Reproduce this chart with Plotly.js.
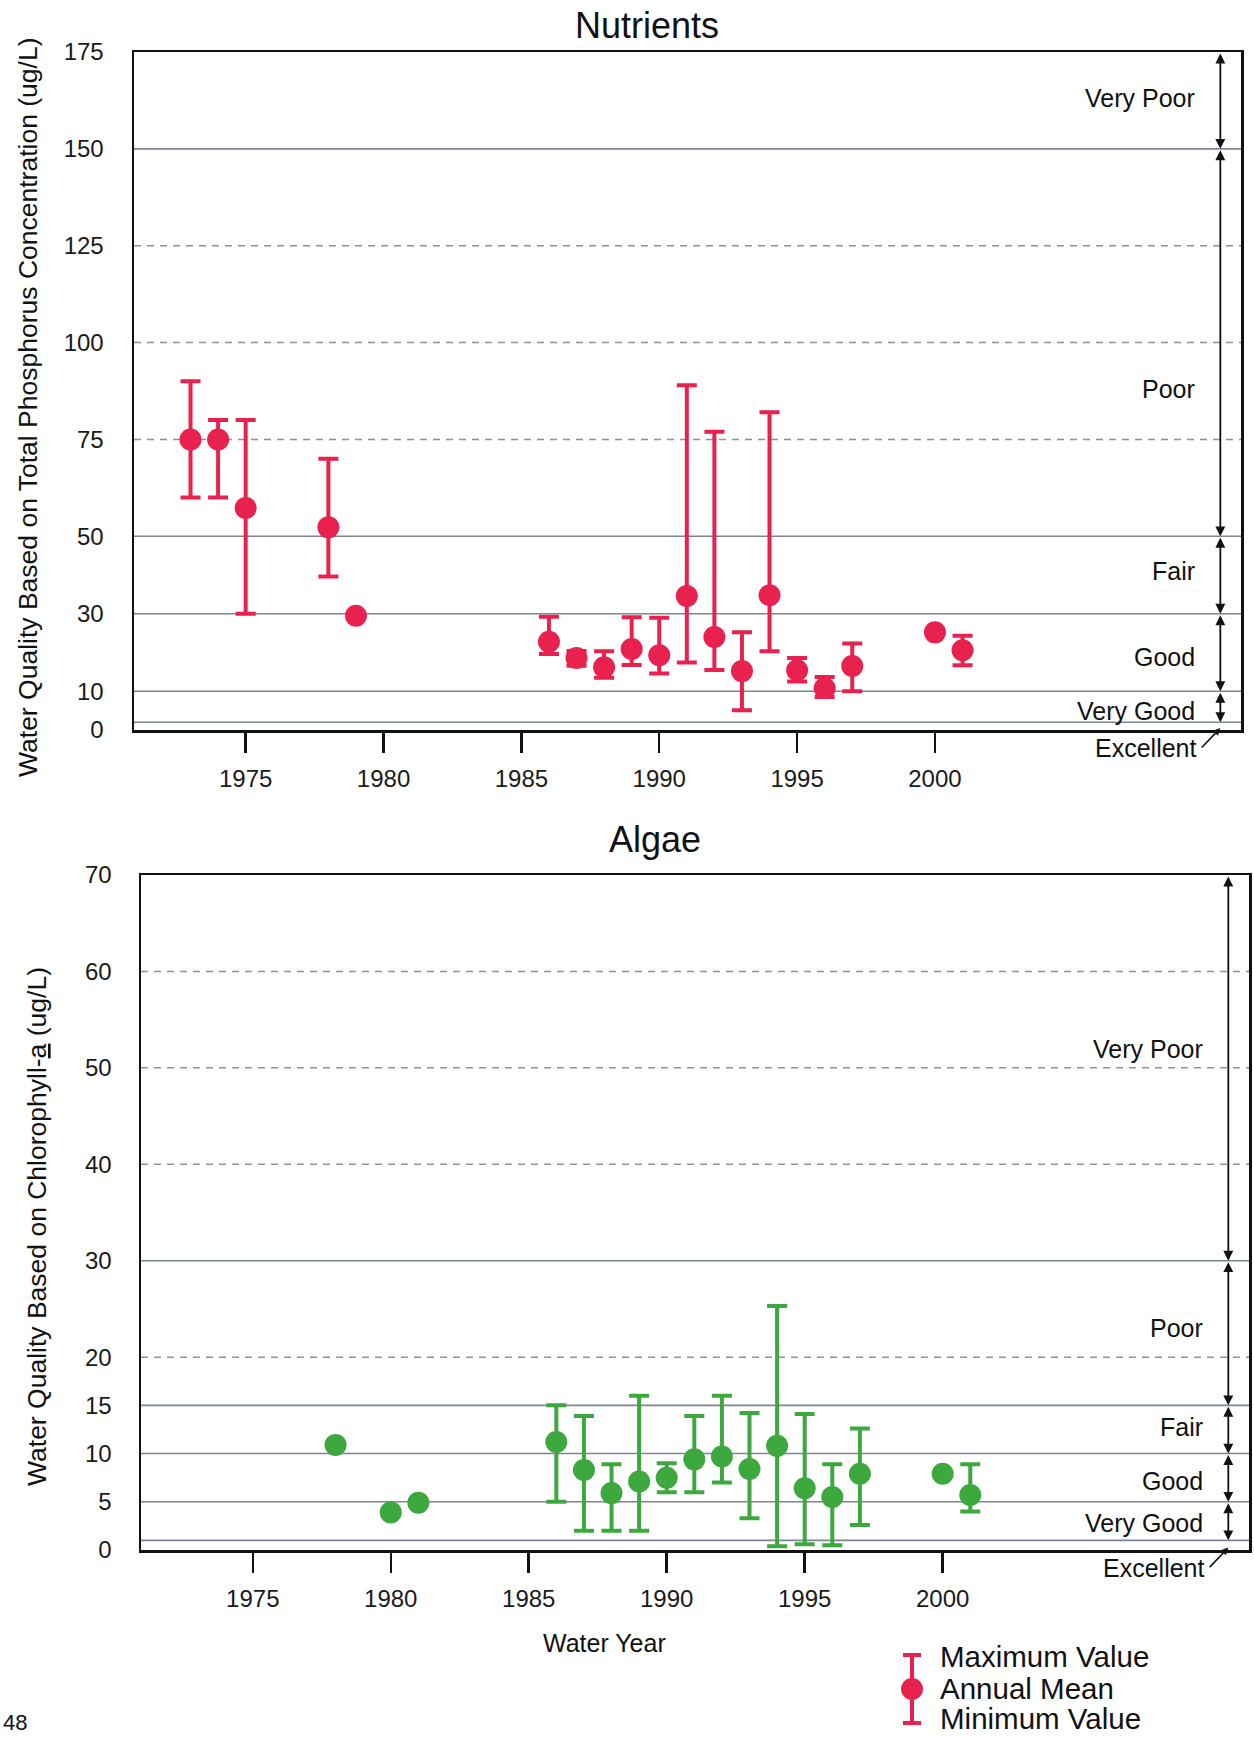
<!DOCTYPE html>
<html>
<head>
<meta charset="utf-8">
<script src="https://cdn.plot.ly/plotly-3.0.1.min.js"></script>
<style>
  html, body { margin: 0; padding: 0; background: #ffffff; }
  #chart { width: 1254px; height: 1737px; }
</style>
</head>
<body>
<div id="chart"></div>
<script>
// ---------- Data: Nutrients (Total Phosphorus, ug/L) ----------
const tpYears = [1973, 1974, 1975, 1978, 1979, 1986, 1987, 1988, 1989, 1990, 1991, 1992, 1993, 1994, 1995, 1996, 1997, 2000, 2001];
const tpMean  = [75, 75, 57.3, 52.3, 29.5, 22.8, 18.6, 16.2, 20.9, 19.3, 34.6, 24, 15.2, 34.8, 15.4, 10.8, 16.5, 25.2, 20.6];
const tpMax   = [90, 80, 80, 70, null, 29.2, 20.4, 20.3, 29.1, 29, 89, 77, 25.2, 82, 18.6, 13.7, 22.3, null, 24.3];
const tpMin   = [60, 60, 30, 39.6, null, 19.6, 16.6, 13.5, 16.8, 14.6, 17.4, 15.5, 5.1, 20.3, 12.5, 8.5, 10, null, 16.7];

// ---------- Data: Algae (Chlorophyll-a, ug/L) ----------
const chlYears = [1978, 1980, 1981, 1986, 1987, 1988, 1989, 1990, 1991, 1992, 1993, 1994, 1995, 1996, 1997, 2000, 2001];
const chlMean  = [10.9, 3.9, 4.9, 11.2, 8.3, 5.9, 7.1, 7.5, 9.4, 9.7, 8.4, 10.8, 6.4, 5.5, 7.9, 7.9, 5.7];
const chlMax   = [null, null, null, 15, 13.9, 8.9, 16, 9, 13.9, 16, 14.2, 25.3, 14.1, 8.9, 12.6, null, 8.9];
const chlMin   = [null, null, null, 5, 2, 2, 2, 6, 6, 7, 3.3, 0.4, 0.6, 0.5, 2.6, null, 4];

// ---------- Axis ticks ----------
const xTicks = [1975, 1980, 1985, 1990, 1995, 2000];
const tpTicks = [0, 10, 30, 50, 75, 100, 125, 150, 175];
const chlTicks = [0, 5, 10, 15, 20, 30, 40, 50, 60, 70];

// ---------- Water-quality categories ----------
const tpBounds = [175, 150, 50, 30, 10, 2, 0];
const chlBounds = [70, 30, 15, 10, 5, 1, 0];
const tpDashed = [75, 100, 125];
const chlDashed = [20, 40, 50, 60];
const catNames = ['Very Poor', 'Poor', 'Fair', 'Good', 'Very Good'];
const lowestCat = 'Excellent';
const tpLabelY = [163, 88, 41, 18.8, 4.8];
const chlLabelY = [52, 23, 12.8, 7.2, 2.75];

// ---------- Legend sample ----------
const legendX = [0];
const legendMean = [0];
const legendMax = [1];
const legendMin = [-1];
const legendTexts = ['Maximum Value', 'Annual Mean', 'Minimum Value'];

const RED = '#e8214f';
const GREEN = '#3ca83d';
const FONT = 'Liberation Sans, Arial, Helvetica, sans-serif';
const W = 1254, H = 1737;
const px = v => v / W;
const py = v => 1 - v / H;

function plusErr(mean, max) { return mean.map((m, i) => max[i] == null ? NaN : max[i] - m); }
function minusErr(mean, min) { return mean.map((m, i) => min[i] == null ? NaN : m - min[i]); }

const xRange = [1970.95, 2011.1];
const arrowX = 2010.35;
const labelX = 2009.5;

const traces = [
  {
    type: 'scatter', mode: 'markers', x: tpYears, y: tpMean, xaxis: 'x', yaxis: 'y',
    marker: { color: RED, size: 22 },
    error_y: { type: 'data', symmetric: false, array: plusErr(tpMean, tpMax), arrayminus: minusErr(tpMean, tpMin),
               color: RED, thickness: 4, width: 10 },
    showlegend: false, hoverinfo: 'skip'
  },
  {
    type: 'scatter', mode: 'markers', x: chlYears, y: chlMean, xaxis: 'x2', yaxis: 'y2',
    marker: { color: GREEN, size: 22 },
    error_y: { type: 'data', symmetric: false, array: plusErr(chlMean, chlMax), arrayminus: minusErr(chlMean, chlMin),
               color: GREEN, thickness: 4, width: 10 },
    showlegend: false, hoverinfo: 'skip'
  },
  {
    type: 'scatter', mode: 'markers', x: legendX, y: legendMean, xaxis: 'x3', yaxis: 'y3',
    marker: { color: RED, size: 22 }, cliponaxis: false,
    error_y: { type: 'data', symmetric: false,
               array: legendMax.map((v, i) => v - legendMean[i]),
               arrayminus: legendMean.map((v, i) => v - legendMin[i]),
               color: RED, thickness: 4, width: 9 },
    showlegend: false, hoverinfo: 'skip'
  }
];

function xAxis(domain, anchor) {
  return {
    domain: domain, anchor: anchor, range: xRange, tickvals: xTicks, ticktext: xTicks.map(String),
    ticks: 'outside', ticklen: 20, tickwidth: 2.5, tickcolor: '#111',
    ticklabelstandoff: 6,
    showline: true, mirror: true, linecolor: '#111', linewidth: 2.5,
    showgrid: false, zeroline: false,
    tickfont: { family: FONT, size: 24, color: '#1a1a1a' }
  };
}
function yAxis(domain, anchor, range, ticks, standoff) {
  return {
    domain: domain, anchor: anchor, range: range, tickvals: ticks, ticktext: ticks.map(String),
    ticks: '', ticklabelstandoff: standoff,
    showline: true, mirror: true, linecolor: '#111', linewidth: 2.5,
    showgrid: false, zeroline: false,
    tickfont: { family: FONT, size: 24, color: '#1a1a1a' }
  };
}

const shapes = [];
const annotations = [];

function addCategoryDecor(xref, yref, bounds, dashed, labelY, excellentPx) {
  // solid category boundary lines (excluding frame top and zero)
  bounds.slice(1, -1).forEach(v => {
    shapes.push({ type: 'line', xref: xref + ' domain', yref: yref, x0: 0, x1: 1, y0: v, y1: v,
                  line: { color: '#7d8496', width: 1.6 }, layer: 'below' });
  });
  dashed.forEach(v => {
    shapes.push({ type: 'line', xref: xref + ' domain', yref: yref, x0: 0, x1: 1, y0: v, y1: v,
                  line: { color: '#8a91a3', width: 1.5, dash: '7px,6px' }, layer: 'below' });
  });
  // double-headed range arrows
  for (let i = 0; i < bounds.length - 2; i++) {
    annotations.push({ xref: xref, yref: yref, axref: xref, ayref: yref,
      x: arrowX, y: bounds[i + 1], ax: arrowX, ay: bounds[i], text: '',
      showarrow: true, arrowside: 'end+start', arrowhead: 2, arrowsize: 1.1, arrowwidth: 1.8,
      arrowcolor: '#111', standoff: 0, startstandoff: 0 });
  }
  // category labels
  for (let i = 0; i < catNames.length; i++) {
    annotations.push({ xref: xref, yref: yref, x: labelX, y: labelY[i], text: catNames[i],
      showarrow: false, xanchor: 'right', yanchor: 'middle',
      font: { family: FONT, size: 25, color: '#111' } });
  }
  // "Excellent" label below the frame, with a leader to the bottom of the arrow
  annotations.push({ xref: 'paper', yref: 'paper', x: px(excellentPx[0]), y: py(excellentPx[1]), text: lowestCat,
    showarrow: false, xanchor: 'right', yanchor: 'middle',
    font: { family: FONT, size: 25, color: '#111' } });
  annotations.push({ xref: xref, yref: yref, x: arrowX, y: bounds[bounds.length - 2] * 0.25, text: '',
    showarrow: true, ax: -20, ay: 21, arrowhead: 2, arrowsize: 0.9, arrowwidth: 1.6, arrowcolor: '#111',
    standoff: 0, startstandoff: 0 });
}

addCategoryDecor('x', 'y', tpBounds, tpDashed, tpLabelY, [1198, 748]);
addCategoryDecor('x2', 'y2', chlBounds, chlDashed, chlLabelY, [1206, 1568]);

// Titles
annotations.push({ xref: 'paper', yref: 'paper', x: px(647), y: py(25), text: 'Nutrients', showarrow: false,
  xanchor: 'center', yanchor: 'middle', font: { family: FONT, size: 36, color: '#111' } });
annotations.push({ xref: 'paper', yref: 'paper', x: px(655), y: py(839), text: 'Algae', showarrow: false,
  xanchor: 'center', yanchor: 'middle', font: { family: FONT, size: 36, color: '#111' } });
annotations.push({ xref: 'paper', yref: 'paper', x: px(28), y: py(408),
  text: 'Water Quality Based on Total Phosphorus Concentration (ug/L)', textangle: -90, showarrow: false,
  xanchor: 'center', yanchor: 'middle', font: { family: FONT, size: 26.5, color: '#111' } });
annotations.push({ xref: 'paper', yref: 'paper', x: px(37), y: py(1227),
  text: 'Water Quality Based on Chlorophyll-<u>a</u> (ug/L)', textangle: -90, showarrow: false,
  xanchor: 'center', yanchor: 'middle', font: { family: FONT, size: 26.5, color: '#111' } });
annotations.push({ xref: 'paper', yref: 'paper', x: px(604), y: py(1643), text: 'Water Year', showarrow: false,
  xanchor: 'center', yanchor: 'middle', font: { family: FONT, size: 25, color: '#111' } });
// Legend texts
const legendTextY = [1656, 1688, 1718];
legendTexts.forEach((t, i) => {
  annotations.push({ xref: 'paper', yref: 'paper', x: px(938), y: py(legendTextY[i]), text: t, showarrow: false,
    xanchor: 'left', yanchor: 'middle', font: { family: FONT, size: 29.5, color: '#111' } });
});
// page number at the left edge
annotations.push({ xref: 'paper', yref: 'paper', x: px(1), y: py(1722), text: '48', showarrow: false,
  xanchor: 'left', yanchor: 'middle', font: { family: FONT, size: 22, color: '#111' } });

const layout = {
  width: W, height: H,
  margin: { l: 0, r: 0, t: 0, b: 0, pad: 0 },
  paper_bgcolor: '#ffffff', plot_bgcolor: '#ffffff',
  showlegend: false,
  font: { family: FONT, color: '#111' },
  xaxis: xAxis([px(134), px(1241)], 'y'),
  yaxis: yAxis([py(730), py(52)], 'x', [0, 175], tpTicks, 23),
  xaxis2: xAxis([px(141), px(1249)], 'y2'),
  yaxis2: yAxis([py(1550), py(875)], 'x2', [0, 70], chlTicks, 22),
  xaxis3: { domain: [px(900), px(924)], anchor: 'y3', range: [-1, 1], visible: false, fixedrange: true },
  yaxis3: { domain: [py(1734), py(1644)], anchor: 'x3', range: [-1.32, 1.32], visible: false, fixedrange: true },
  shapes: shapes,
  annotations: annotations
};

Plotly.newPlot('chart', traces, layout, { staticPlot: true, displayModeBar: false });
</script>
</body>
</html>
